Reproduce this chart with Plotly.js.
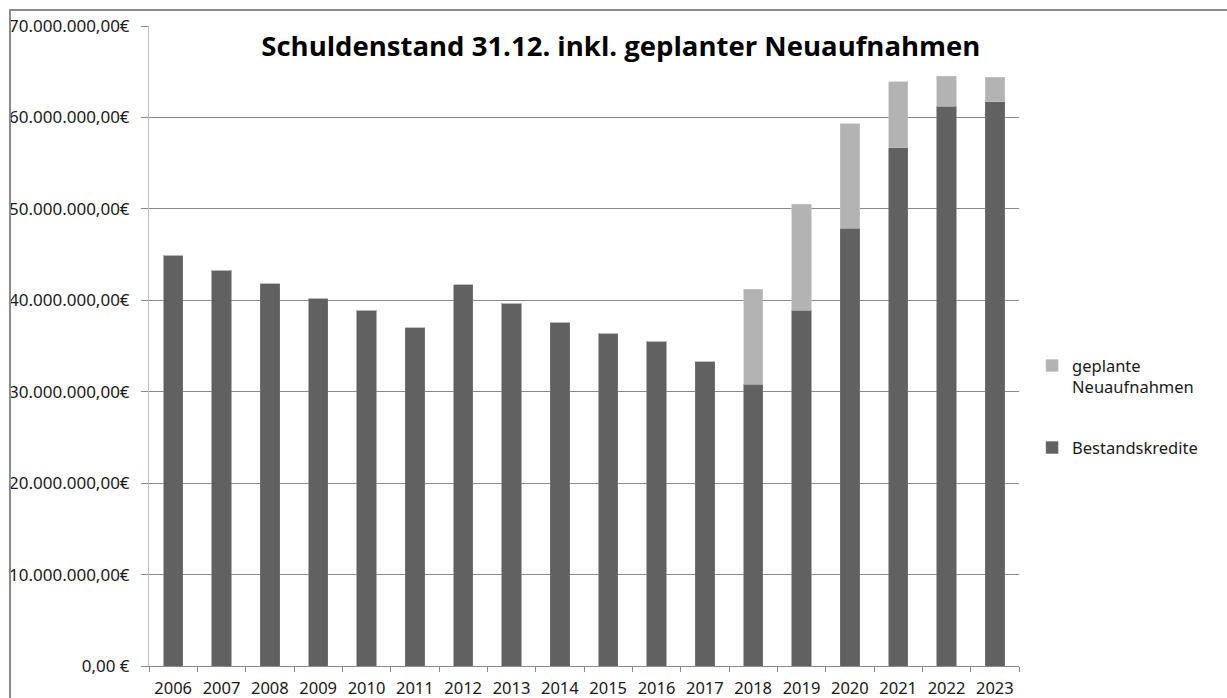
<!DOCTYPE html>
<html>
<head>
<meta charset="utf-8">
<script src="https://cdn.plot.ly/plotly-3.0.1.min.js"></script>
<style>
html,body{margin:0;padding:0;background:#fff;}
#wrap{position:relative;width:1227px;height:698px;overflow:hidden;}
#chart{position:absolute;left:0;top:0;width:1227px;height:698px;}
#frame{position:absolute;left:9px;top:9px;width:1240px;height:720px;border-left:2px solid #8c8c8c;border-top:2px solid #8c8c8c;pointer-events:none;}
</style>
</head>
<body>
<div id="wrap"><div id="chart"></div><div id="frame"></div></div>
<script>
const years = ['2006','2007','2008','2009','2010','2011','2012','2013','2014','2015','2016','2017','2018','2019','2020','2021','2022','2023'];
const bestandskredite = [44.9,43.3,41.8,40.2,38.9,37.0,41.7,39.7,37.6,36.4,35.5,33.3,30.8,38.9,47.9,56.7,61.2,61.7].map(v=>v*1e6);
const gesamt = [44.9,43.3,41.8,40.2,38.9,37.0,41.7,39.7,37.6,36.4,35.5,33.3,41.2,50.5,59.3,63.9,64.5,64.4].map(v=>v*1e6);
const neuaufnahmen = gesamt.map((g,i)=>Math.max(0, g - bestandskredite[i]));
const yTickVals = [0,10e6,20e6,30e6,40e6,50e6,60e6,70e6];
const yTickText = ['0,00 €','10.000.000,00€','20.000.000,00€','30.000.000,00€','40.000.000,00€','50.000.000,00€','60.000.000,00€','70.000.000,00€'];
const titleText = 'Schuldenstand 31.12. inkl. geplanter Neuaufnahmen';

const font = 'Noto Sans, Open Sans, sans-serif';
const traces = [
  {type:'bar', name:'Bestandskredite', x:years, y:bestandskredite, legendrank:2,
   marker:{color:'#616161', line:{color:'#7a7a7a', width:0.6}}, legendgroup:'a', hoverinfo:'x+y'},
  {type:'bar', name:'geplante<br>Neuaufnahmen', x:years, y:neuaufnahmen, legendrank:1,
   marker:{color:'#b3b3b3', line:{color:'#c4c4c4', width:0.6}}, legendgroup:'b', hoverinfo:'x+y'}
];
const layout = {
  width:1227, height:698,
  margin:{l:149, r:208, t:26, b:32, pad:0},
  paper_bgcolor:'#fff', plot_bgcolor:'#fff',
  barmode:'stack', bargap:0.6,
  font:{family:font, size:17, color:'#1a1a1a'},
  title:{text:'<b>'+titleText+'</b>', x:0.506, xanchor:'center', y:0.933, yanchor:'middle',
         font:{family:'Open Sans, Noto Sans, sans-serif', size:27.5, color:'#000'}},
  xaxis:{type:'category', tickson:'boundaries', ticks:'outside', ticklen:5, tickcolor:'#8a8a8a',
         showline:true, linecolor:'#8a8a8a', linewidth:1, showgrid:false,
         ticklabelstandoff:7,
         tickfont:{family:font, size:16.5, color:'#1a1a1a'}, fixedrange:true},
  yaxis:{range:[0,70e6], tickvals:yTickVals, ticktext:yTickText, ticks:'outside', ticklen:7,
         tickcolor:'#8a8a8a', showline:true, linecolor:'#c0c0c0', linewidth:1,
         showgrid:true, gridcolor:'#8a8a8a', gridwidth:1, zeroline:false,
         ticklabelstandoff:8,
         tickfont:{family:font, size:17, color:'#1a1a1a'}, fixedrange:true},
  legend:{x:1.015, xanchor:'left', y:0.405, yanchor:'middle', traceorder:'grouped', valign:'top',
          tracegroupgap:36, font:{family:font, size:16.5, color:'#1a1a1a'}, itemwidth:30, bgcolor:'rgba(0,0,0,0)'},
  showlegend:true
};
Plotly.newPlot('chart', traces, layout, {displayModeBar:false, staticPlot:true});
</script>
</body>
</html>
